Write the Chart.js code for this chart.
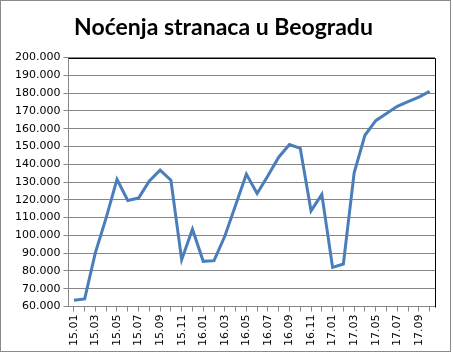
<!DOCTYPE html>
<html>
<head>
<meta charset="utf-8">
<script src="https://cdn.jsdelivr.net/npm/chart.js@4"></script>
<style>
  html, body { margin: 0; padding: 0; background: #fff; }
  #wrap { position: relative; width: 453px; height: 354px; }
  #frame { position: absolute; left: 0; top: 0; width: 449px; height: 350px; border: 1px solid #8a8a8a; pointer-events: none; }
</style>
</head>
<body>
<div id="wrap">
  <canvas id="chart" width="453" height="354"></canvas>
  <div id="frame"></div>
</div>
<script>
// ---- data ----
const MONTHS = [
  "15.01","15.02","15.03","15.04","15.05","15.06","15.07","15.08","15.09","15.10","15.11","15.12",
  "16.01","16.02","16.03","16.04","16.05","16.06","16.07","16.08","16.09","16.10","16.11","16.12",
  "17.01","17.02","17.03","17.04","17.05","17.06","17.07","17.08","17.09","17.10"
];
const NOCENJA = [
  63500, 64300, 90400, 110000, 131500, 119600, 121000, 130600, 136700, 131000, 86300, 103500,
  85400, 85800, 99500, 117000, 134500, 123600, 133500, 144000, 151100, 149000, 113800, 123100,
  82000, 83900, 135200, 156300, 164500, 168500, 172600, 175200, 177800, 181000
];
const TITLE = "Noćenja stranaca u Beogradu";
const Y_MIN = 60000, Y_MAX = 200000, Y_STEP = 10000;

function fmt(v) {
  return String(v).replace(/\B(?=(\d{3})+(?!\d))/g, ".");
}

// black top + right edge of the plot area
const plotEdge = {
  id: "plotEdge",
  afterDraw(chart) {
    const { ctx, chartArea: a } = chart;
    ctx.save();
    ctx.strokeStyle = "#000";
    ctx.lineWidth = 1;
    ctx.beginPath();
    ctx.moveTo(Math.round(a.left) + 0.5, Math.round(a.top) + 0.5);
    ctx.lineTo(Math.round(a.right) + 0.5, Math.round(a.top) + 0.5);
    ctx.lineTo(Math.round(a.right) + 0.5, Math.round(a.bottom) + 0.5);
    ctx.stroke();
    ctx.restore();
  }
};

new Chart(document.getElementById("chart"), {
  type: "line",
  data: {
    labels: MONTHS,
    datasets: [{
      data: NOCENJA,
      borderColor: "#4a7ebb",
      borderWidth: 3,
      pointRadius: 0,
      tension: 0,
      fill: false
    }]
  },
  options: {
    responsive: false,
    animation: false,
    layout: { padding: { left: 12, right: 18, top: 4, bottom: 5 } },
    plugins: {
      legend: { display: false },
      tooltip: { enabled: false },
      title: {
        display: true,
        text: TITLE,
        color: "#000",
        font: { family: "Lato", size: 23, weight: "bold" },
        padding: { top: 10, bottom: 16 }
      }
    },
    scales: {
      x: {
        offset: true,
        grid: { drawOnChartArea: false, drawTicks: true, tickLength: 5, color: "#868686" },
        border: { color: "#868686" },
        ticks: {
          autoSkip: false,
          maxRotation: 90,
          minRotation: 90,
          color: "#000",
          font: { family: "DejaVu Sans", size: 11 },
          padding: 3,
          callback: (v, i) => (i % 2 === 0 ? MONTHS[i] : "")
        }
      },
      y: {
        min: Y_MIN,
        max: Y_MAX,
        grid: { color: "#868686", tickLength: 5 },
        border: { color: "#868686" },
        ticks: {
          stepSize: Y_STEP,
          color: "#000",
          font: { family: "DejaVu Sans", size: 11 },
          padding: 3,
          callback: v => fmt(v)
        }
      }
    }
  },
  plugins: [plotEdge]
});
</script>
</body>
</html>
